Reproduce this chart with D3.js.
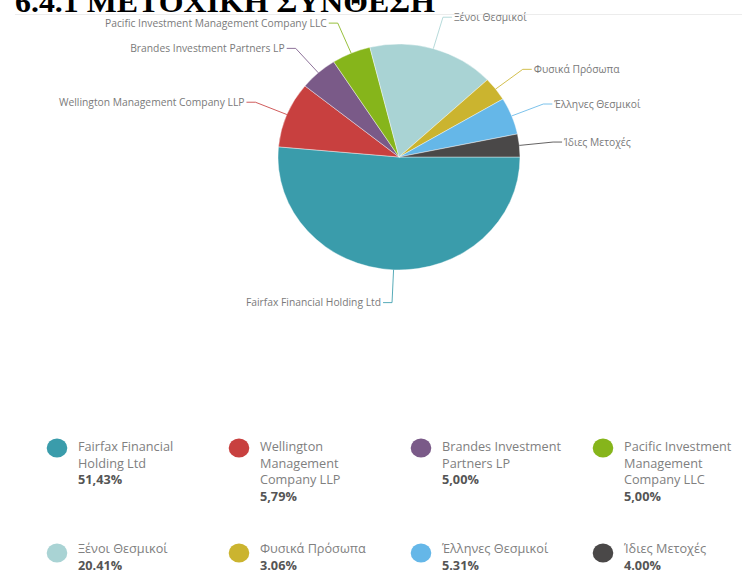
<!DOCTYPE html>
<html>
<head>
<meta charset="utf-8">
<script src="https://cdn.jsdelivr.net/npm/d3@7"></script>
<style>
  html, body { margin: 0; padding: 0; background: #fff; }
  svg { display: block; }
</style>
</head>
<body>
<svg id="chart" width="742" height="574"></svg>
<script>
// ---- data ----
const titleText = "6.4.1 ΜΕΤΟΧΙΚΗ ΣΥΝΘΕΣΗ";
const categories = [
  "Fairfax Financial Holding Ltd",
  "Wellington Management Company LLP",
  "Brandes Investment Partners LP",
  "Pacific Investment Management Company LLC",
  "Ξένοι Θεσμικοί",
  "Φυσικά Πρόσωπα",
  "Έλληνες Θεσμικοί",
  "Ίδιες Μετοχές"
];
// slice shares as drawn in the pie
const sliceValues = [51.43, 9.4, 5.1, 5.2, 16.9, 3.4, 5.3, 3.27];
// percentages printed in the legend
const legendLabels = ["51,43%", "5,79%", "5,00%", "5,00%", "20.41%", "3.06%", "5.31%", "4.00%"];
const colors = ["#3a9cab", "#c8403f", "#7a5a88", "#86b51b", "#a9d3d4", "#cbb42f", "#65b7e8", "#4a4848"];

// ---- layout ----
const svg = d3.select("#chart");
const cx = 399, cy = 157, rx = 121, ry = 113;

// top rule and title (cut at the top edge, as in the original page)
svg.append("line").attr("x1", 15).attr("x2", 742).attr("y1", 14.5).attr("y2", 14.5)
  .attr("stroke", "#ececec").attr("stroke-width", 1);
svg.append("text").attr("x", 15).attr("y", 12)
  .attr("font-family", "'Liberation Serif', 'Times New Roman', serif")
  .attr("font-weight", "bold").attr("font-size", 29)
  .attr("textLength", 420).attr("lengthAdjust", "spacingAndGlyphs")
  .attr("fill", "#000").text(titleText);

// pie
const pie = d3.pie().sort(null).value(d => d)
  .startAngle(Math.PI / 2).endAngle(Math.PI / 2 + 2 * Math.PI);
const arcs = pie(sliceValues);
const arc = d3.arc().innerRadius(0).outerRadius(rx);

const gPie = svg.append("g").attr("transform", `translate(${cx},${cy}) scale(1,${ry / rx})`);
gPie.selectAll("path").data(arcs).join("path")
  .attr("d", arc)
  .attr("fill", (d, i) => colors[i])
  .attr("stroke", "#ffffff").attr("stroke-width", 0.6).attr("stroke-opacity", 0.7);

// data labels with connectors
const gLab = svg.append("g");
const bendK = 1.29, hLen = 9;
arcs.forEach((d, i) => {
  const a = (d.startAngle + d.endAngle) / 2;
  const sx = cx + rx * Math.sin(a), sy = cy - ry * Math.cos(a);
  const bx = cx + 1.28 * rx * Math.sin(a), by = cy - bendK * ry * Math.cos(a);
  const dir = Math.sin(a) < 0 ? -1 : 1;
  const ex = bx + dir * hLen;
  gLab.append("path")
    .attr("d", `M${sx},${sy}L${bx},${by}L${ex},${by}`)
    .attr("fill", "none").attr("stroke", colors[i]).attr("stroke-width", 1)
    .attr("stroke-opacity", 0.85);
  gLab.append("text")
    .attr("x", ex + dir * 2).attr("y", by)
    .attr("dy", "0.35em")
    .attr("text-anchor", dir < 0 ? "end" : "start")
    .attr("font-family", "'Open Sans', sans-serif").attr("font-size", 10.3)
    .attr("fill", "#7a7a7a")
    .text(categories[i]);
});

// legend
const colX = d3.scaleLinear().domain([0, 3]).range([57, 603]);
const rowY = d3.scaleLinear().domain([0, 1]).range([448, 553]);
const rowTextY = d3.scaleLinear().domain([0, 1]).range([447, 549]);
const lineH = 16.5, wrapW = 127;
const gLeg = svg.append("g");
categories.forEach((name, i) => {
  const col = i % 4, row = Math.floor(i / 4);
  const x0 = colX(col), y0 = rowY(row), ty = rowTextY(row);
  gLeg.append("ellipse").attr("cx", x0).attr("cy", y0).attr("rx", 10.3).attr("ry", 9.6)
    .attr("fill", colors[i]);
  const t = gLeg.append("text")
    .attr("font-family", "'Open Sans', sans-serif").attr("font-size", 12.7)
    .attr("fill", "#808080");
  // word wrap by measured width
  const words = name.split(" ");
  let lines = [], cur = "";
  const probe = t.append("tspan");
  words.forEach(w => {
    const test = cur ? cur + " " + w : w;
    probe.text(test);
    if (probe.node().getComputedTextLength() > wrapW && cur) {
      lines.push(cur); cur = w;
    } else cur = test;
  });
  lines.push(cur);
  probe.remove();
  lines.forEach((ln, k) => {
    t.append("tspan").attr("x", x0 + 21).attr("y", ty + k * lineH).attr("dy", "0.35em").text(ln);
  });
  gLeg.append("text")
    .attr("x", x0 + 21).attr("y", ty + lines.length * lineH).attr("dy", "0.35em")
    .attr("font-family", "'Open Sans', sans-serif").attr("font-size", 12.7)
    .attr("font-weight", "bold").attr("fill", "#555")
    .text(legendLabels[i]);
});
</script>
</body>
</html>
